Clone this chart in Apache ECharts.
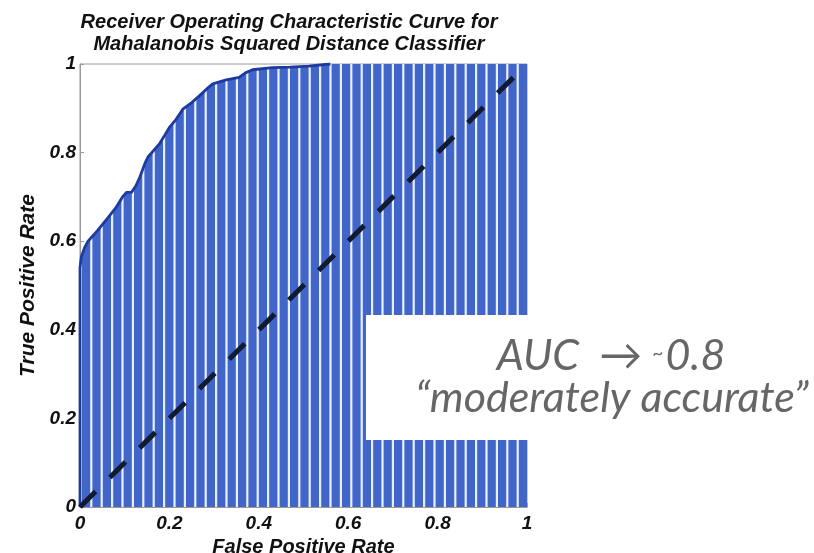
<!DOCTYPE html>
<html>
<head>
<meta charset="utf-8">
<script src="https://cdn.jsdelivr.net/npm/echarts@6/dist/echarts.min.js"></script>
<style>html,body{margin:0;padding:0;background:#fff;}#c{width:814px;height:553px;}</style>
</head>
<body>
<div id="c"></div>
<script>
// ROC curve points (False Positive Rate, True Positive Rate)
var rocFpr = [0, 0, 0.003, 0.01, 0.018, 0.04, 0.06, 0.08, 0.095, 0.104, 0.115, 0.125, 0.134, 0.145, 0.152, 0.165, 0.178, 0.19, 0.2, 0.215, 0.23, 0.25, 0.267, 0.285, 0.297, 0.327, 0.356, 0.37, 0.386, 0.43, 0.47, 0.512, 0.56];
var rocTpr = [0, 0.54, 0.565, 0.585, 0.6, 0.625, 0.65, 0.675, 0.7, 0.71, 0.71, 0.725, 0.745, 0.775, 0.79, 0.805, 0.82, 0.84, 0.857, 0.875, 0.898, 0.913, 0.928, 0.945, 0.955, 0.964, 0.97, 0.98, 0.987, 0.992, 0.993, 0.995, 1.0];
// Area under curve continues to the right edge at TPR = 1
var areaTailFpr = [1];
var areaTailTpr = [1];
// Chance diagonal
var diagFpr = [0, 1];
var diagTpr = [0, 1];
var xTicks = [0, 0.2, 0.4, 0.6, 0.8, 1];
var yTicks = [0, 0.2, 0.4, 0.6, 0.8, 1];
var titleLines = ['Receiver Operating Characteristic Curve for', 'Mahalanobis Squared Distance Classifier'];
var xName = 'False Positive Rate';
var yName = 'True Positive Rate';
var noteLine1 = 'AUC  \u2192 ';
var noteTilde = '~';
var noteValue = '0.8';
var noteLine2 = '\u201Cmoderately accurate\u201D';

function zip(a, b) { return a.map(function (v, i) { return [v, b[i]]; }); }
var rocData = zip(rocFpr, rocTpr);
var areaData = rocData.concat(zip(areaTailFpr, areaTailTpr));
var diagData = zip(diagFpr, diagTpr);

// stripe pattern
var pc = document.createElement('canvas');
pc.width = 52; pc.height = 8;
var g = pc.getContext('2d');
g.fillStyle = '#4265ca';
g.fillRect(0, 0, 52, 8);
g.fillStyle = '#e6f1ff';
for (var i = 0; i < 5; i++) { g.fillRect(i * 10.4 + 7, 0, 2.2, 8); }

var lblFont = { fontFamily: '"Liberation Sans", Arial, sans-serif', fontWeight: 'bold', fontStyle: 'italic', fontSize: 19, color: '#111' };

var chart = echarts.init(document.getElementById('c'));
chart.setOption({
  animation: false,
  backgroundColor: '#fff',
  title: {
    text: titleLines.join('\n'),
    left: 284, top: 6, textAlign: 'center',
    textStyle: { fontFamily: '"Liberation Sans", Arial, sans-serif', fontWeight: 'bold', fontStyle: 'italic', fontSize: 20, lineHeight: 22, color: '#111' }
  },
  grid: { left: 80, right: 287, top: 64, bottom: 46, show: true, borderColor: '#9a9a9a', borderWidth: 1, containLabel: false, outerBoundsMode: 'none' },
  xAxis: {
    type: 'value', min: 0, max: 1, interval: 0.2,
    name: xName, nameLocation: 'middle', nameGap: 25,
    nameTextStyle: Object.assign({}, lblFont, { fontSize: 20, lineHeight: 20, verticalAlign: 'top' }),
    axisLine: { show: true, lineStyle: { color: '#9a9a9a' } },
    axisTick: { show: true, inside: true, length: 4, lineStyle: { color: '#9a9a9a' } },
    axisLabel: Object.assign({}, lblFont, { margin: 7, formatter: function (v) { return String(v); } }),
    splitLine: { show: false }
  },
  yAxis: {
    type: 'value', min: 0, max: 1, interval: 0.2,
    name: yName, nameLocation: 'middle', nameGap: 40,
    nameTextStyle: Object.assign({}, lblFont, { fontSize: 21 }),
    axisLine: { show: true, lineStyle: { color: '#9a9a9a' } },
    axisTick: { show: true, inside: true, length: 4, lineStyle: { color: '#9a9a9a' } },
    axisLabel: Object.assign({}, lblFont, { margin: 4, formatter: function (v) { return String(v); } }),
    splitLine: { show: false }
  },
  series: [
    {
      type: 'line', data: areaData, symbol: 'none', z: 1,
      lineStyle: { width: 0 },
      areaStyle: { color: { image: pc, repeat: 'repeat' }, opacity: 1 }
    },
    {
      type: 'line', data: rocData, symbol: 'none', z: 3,
      lineStyle: { color: '#1d3a9e', width: 2.8 }
    },
    {
      type: 'line', data: diagData, symbol: 'none', z: 4,
      lineStyle: { color: '#121a30', width: 5, type: [22, 20] }
    }
  ],
  graphic: [
    { type: 'rect', z: 100, shape: { x: 366, y: 315, width: 448, height: 125 }, style: { fill: '#fff' } },
    {
      type: 'text', z: 101, x: 611, y: 356,
      style: {
        text: '{a|' + noteLine1 + '}{t|' + noteTilde + '}{a|' + noteValue + '}',
        rich: {
          a: { fontFamily: 'Lato, "Open Sans", sans-serif', fontStyle: 'italic', fontWeight: 'normal', fontSize: 43, fill: '#666' },
          t: { fontFamily: 'Lato, "Open Sans", sans-serif', fontSize: 19, fill: '#666', padding: [0, 2, 4, 0] }
        },
        align: 'center', verticalAlign: 'middle'
      }
    },
    {
      type: 'text', z: 101, x: 612, y: 398,
      style: {
        text: noteLine2,
        font: 'italic normal 43px Lato, "Open Sans", sans-serif',
        fill: '#666', align: 'center', verticalAlign: 'middle'
      }
    }
  ]
});
</script>
</body>
</html>
